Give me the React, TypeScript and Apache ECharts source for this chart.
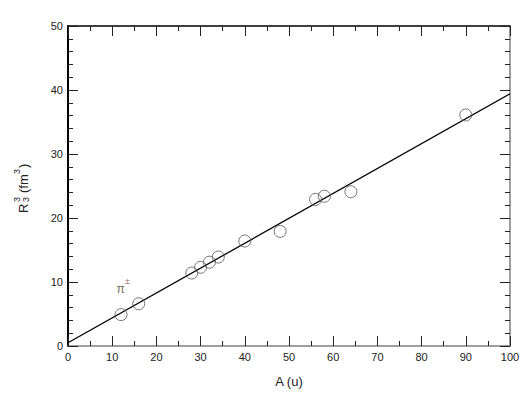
import React, { useEffect, useRef } from "react";
import * as echarts from "echarts";

const massA = [12, 16, 28, 30, 32, 34, 40, 48, 56, 58, 64, 90];
const radiusR3 = [4.9, 6.6, 11.4, 12.3, 13.1, 13.9, 16.4, 17.9, 22.9, 23.4, 24.1, 36.1];
const fitA = [0, 100];
const fitR3 = [0.5, 39.4];
const noteA = [11.0];
const noteR3 = [9.4];
const xTicks = { min: 0, max: 100, interval: 10 };
const yTicks = { min: 0, max: 50, interval: 10 };

const FONT = "Liberation Sans, Arial, sans-serif";

export default function App() {
  const ref = useRef<HTMLDivElement>(null);
  useEffect(() => {
    document.body.style.margin = "0";
    const chart = echarts.init(ref.current!, null, { renderer: "svg" });
    const tickBase = (lineColor: string, lineWidth: number, labels: boolean, pos: string) => ({
      type: "value",
      position: pos,
      axisLine: { show: true, onZero: false, lineStyle: { color: lineColor, width: lineWidth } },
      axisTick: { show: true, inside: true, length: 10, lineStyle: { color: "#222", width: 1 } },
      minorTick: { show: true, length: 5, lineStyle: { color: "#222", width: 1 } },
      axisLabel: { show: labels, fontSize: 11, color: "#222", fontFamily: FONT, margin: 5 },
      splitLine: { show: false },
      minorSplitLine: { show: false },
    });
    const xb = tickBase("#808080", 1.5, true, "bottom");
    const xt = tickBase("#000", 1.5, false, "top");
    const yl = tickBase("#000", 2, true, "left");
    const yr = tickBase("#808080", 1.5, false, "right");
    const t = (text: string, x: number, y: number, size: number) => ({
      type: "text",
      x,
      y,
      style: { text, fontSize: size, fontFamily: FONT, fill: "#222", verticalAlign: "middle" },
    });
    chart.setOption({
      animation: false,
      backgroundColor: "#fff",
      grid: { left: 68, right: 21, top: 26, bottom: 54, outerBoundsMode: "none" },
      xAxis: [
        {
          ...xb,
          ...xTicks,
          minorTick: { ...xb.minorTick, splitNumber: 2 },
          name: "A (u)",
          nameLocation: "middle",
          nameGap: 29,
          nameTextStyle: { fontSize: 13, color: "#222", fontFamily: FONT },
        },
        { ...xt, ...xTicks, minorTick: { ...xt.minorTick, splitNumber: 2 } },
      ],
      yAxis: [
        { ...yl, ...yTicks, minorTick: { ...yl.minorTick, splitNumber: 5 } },
        { ...yr, ...yTicks, minorTick: { ...yr.minorTick, splitNumber: 5 } },
      ],
      graphic: [
        {
          type: "group",
          x: 23,
          y: 181,
          rotation: Math.PI / 2,
          children: [
            t("R", -32, 0, 13),
            t("3", -21, -6, 9),
            t("3", -21, 3, 9),
            t("(fm", -12, 0, 13),
            t("3", 7, -6, 9),
            t(")", 13, 0, 13),
          ],
        },
      ],
      series: [
        {
          type: "line",
          data: fitA.map((a, i) => [a, fitR3[i]]),
          showSymbol: false,
          lineStyle: { color: "#000", width: 1.3 },
          z: 2,
        },
        {
          type: "scatter",
          data: massA.map((a, i) => [a, radiusR3[i]]),
          symbol: "circle",
          symbolSize: 12,
          itemStyle: { color: "rgba(0,0,0,0)", borderColor: "#555", borderWidth: 1 },
          z: 3,
        },
        {
          type: "scatter",
          data: noteA.map((a, i) => [a, noteR3[i]]),
          symbolSize: 0,
          label: {
            show: true,
            position: "right",
            distance: 0,
            formatter: "{p|π}{s|±}",
            rich: {
              p: { fontSize: 12, color: "#4a3a2a", fontFamily: FONT, lineHeight: 18, verticalAlign: "bottom" },
              s: { fontSize: 9, color: "#8a4a3a", fontFamily: FONT, verticalAlign: "top", lineHeight: 10 },
            },
          },
          z: 4,
        },
      ],
    });
    return () => chart.dispose();
  }, []);
  return <div ref={ref} style={{ position: "absolute", left: 0, top: 0, width: 531, height: 400 }} />;
}
